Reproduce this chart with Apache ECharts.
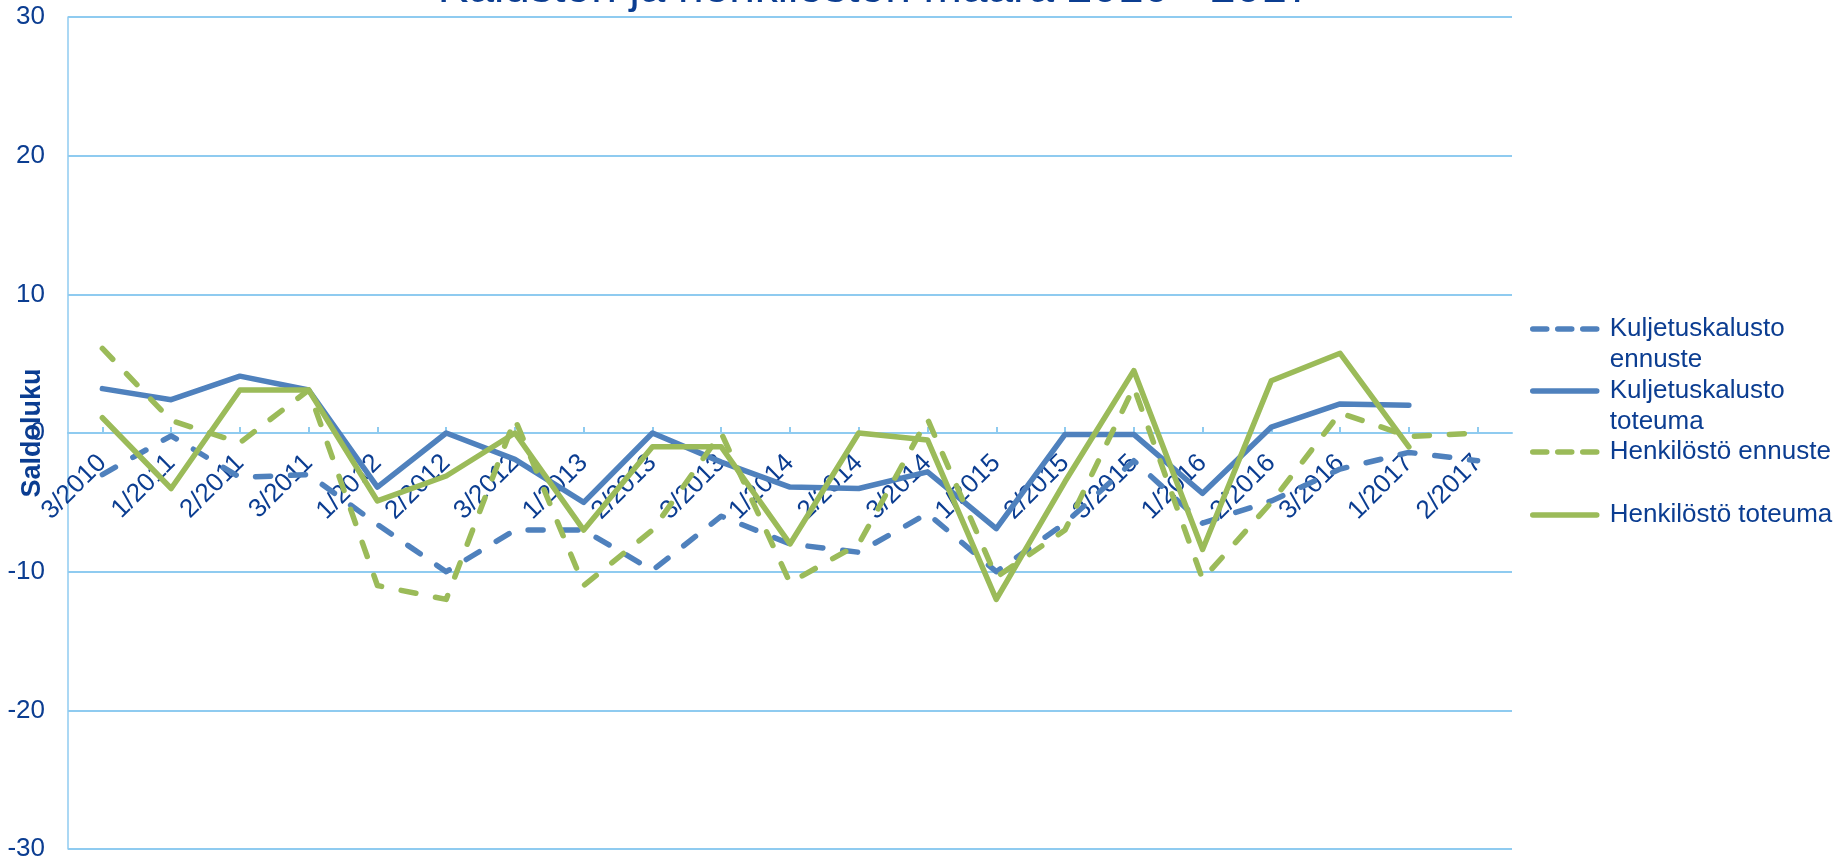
<!DOCTYPE html>
<html>
<head>
<meta charset="utf-8">
<script src="https://cdn.jsdelivr.net/npm/echarts@6/dist/echarts.min.js"></script>
<style>
html,body{margin:0;padding:0;background:#fff;}
#chart{width:1846px;height:859px;}
</style>
</head>
<body>
<div id="chart"></div>
<script>
const titleText = 'Kaluston ja henkilöstön määrä 2010 - 2017';
const yAxisName = 'Saldoluku';
const categories = ['3/2010','1/2011','2/2011','3/2011','1/2012','2/2012','3/2012','1/2013','2/2013','3/2013','1/2014','2/2014','3/2014','1/2015','2/2015','3/2015','1/2016','2/2016','3/2016','1/2017','2/2017'];
const seriesNames = ['Kuljetuskalusto ennuste','Kuljetuskalusto toteuma','Henkilöstö ennuste','Henkilöstö toteuma'];
const legendLabels = ['\nKuljetuskalusto\nennuste','\nKuljetuskalusto\ntoteuma','Henkilöstö ennuste','Henkilöstö toteuma'];
const kalustoEnnuste = [-3, -0.2, -3.2, -3, -6.6, -10, -7, -7, -9.9, -6, -8, -8.6, -5.8, -10, -6.5, -2, -6.5, -4.9, -2.6, -1.4, -2];
const kalustoToteuma = [3.2, 2.4, 4.1, 3.1, -3.9, 0, -1.9, -5, 0, -2.1, -3.9, -4, -2.8, -6.9, -0.1, -0.1, -4.35, 0.43, 2.1, 2.0, null];
const henkilostoEnnuste = [6.1, 0.9, -0.7, 3.1, -11, -12, 1, -11, -7, 0, -10.8, -8, 1, -10.4, -7, 3.3, -10.55, -5, 1.45, -0.25, 0];
const henkilostoToteuma = [1.1, -4, 3.1, 3.1, -4.9, -3.1, 0, -7, -1, -1, -8, 0, -0.5, -12, -3.5, 4.5, -8.4, 3.77, 5.75, -1.0, null];

const BLUE = '#4F81BD', GREEN = '#9BBB59', TEXT = '#0B3D91', GRID = '#8FCBF0';
const FONT = '"Liberation Sans", Arial, sans-serif';
const LEGEND_DASH = [14, 11];
const SERIES_DASH = [15, 20];

const chart = echarts.init(document.getElementById('chart'));

function mkLegend(i, centerY, lines, color, dashed) {
  const h = 31 * lines;
  return {
    data: [seriesNames[i]],
    formatter: () => legendLabels[i],
    orient: 'vertical',
    left: 1530,
    top: centerY - h / 2,
    padding: 0,
    itemWidth: 64,
    itemHeight: 10,
    selectedMode: false,
    itemStyle: { opacity: 0 },
    lineStyle: { color: color, width: 5.5, type: dashed ? LEGEND_DASH : 'solid', cap: 'round' },
    textStyle: {
      color: TEXT, fontFamily: FONT, fontSize: 26, lineHeight: 31,
      padding: [0, 0, 0, 8]
    }
  };
}

function mkSeries(i, data, color, dashed) {
  return {
    name: seriesNames[i],
    type: 'line',
    data: data,
    symbol: 'none',
    connectNulls: false,
    lineStyle: {
      color: color, width: 5.5,
      type: dashed ? SERIES_DASH : 'solid',
      cap: 'round', join: 'round'
    },
    itemStyle: { color: color },
    emphasis: { disabled: true },
    animation: false
  };
}

chart.setOption({
  animation: false,
  backgroundColor: '#fff',
  title: {
    text: titleText,
    left: 875,
    textAlign: 'center',
    top: -34,
    padding: 0,
    textStyle: { color: TEXT, fontFamily: FONT, fontSize: 46, fontWeight: 'normal' }
  },
  legend: [
    mkLegend(0, 329, 3, BLUE, true),
    mkLegend(1, 391, 3, BLUE, false),
    mkLegend(2, 452, 1, GREEN, true),
    mkLegend(3, 515, 1, GREEN, false)
  ],
  grid: { left: 68, right: 334, top: 17, bottom: 10, containLabel: false, outerBoundsMode: 'none' },
  xAxis: {
    type: 'category',
    data: categories,
    boundaryGap: true,
    position: 'bottom',
    offset: -416,
    axisLine: { onZero: false, lineStyle: { color: GRID, width: 2 } },
    axisTick: { show: true, alignWithLabel: true, inside: true, length: 6, lineStyle: { color: GRID, width: 2 } },
    axisLabel: { interval: 0, rotate: 45, margin: 26, color: TEXT, fontFamily: FONT, fontSize: 26 },
    splitLine: { show: false }
  },
  yAxis: {
    type: 'value',
    min: -30, max: 30, interval: 10,
    name: yAxisName,
    nameLocation: 'middle',
    nameGap: 22,
    nameMoveOverlap: false,
    nameTextStyle: { color: TEXT, fontFamily: FONT, fontSize: 27, fontWeight: 'bold' },
    axisLine: { show: true, lineStyle: { color: GRID, width: 1.5 } },
    axisTick: { show: false },
    axisLabel: { color: TEXT, fontFamily: FONT, fontSize: 26, margin: 23 },
    splitLine: { show: true, lineStyle: { color: GRID, width: 2 } }
  },
  series: [
    mkSeries(0, kalustoEnnuste, BLUE, true),
    mkSeries(1, kalustoToteuma, BLUE, false),
    mkSeries(2, henkilostoEnnuste, GREEN, true),
    mkSeries(3, henkilostoToteuma, GREEN, false)
  ]
});
</script>
</body>
</html>
